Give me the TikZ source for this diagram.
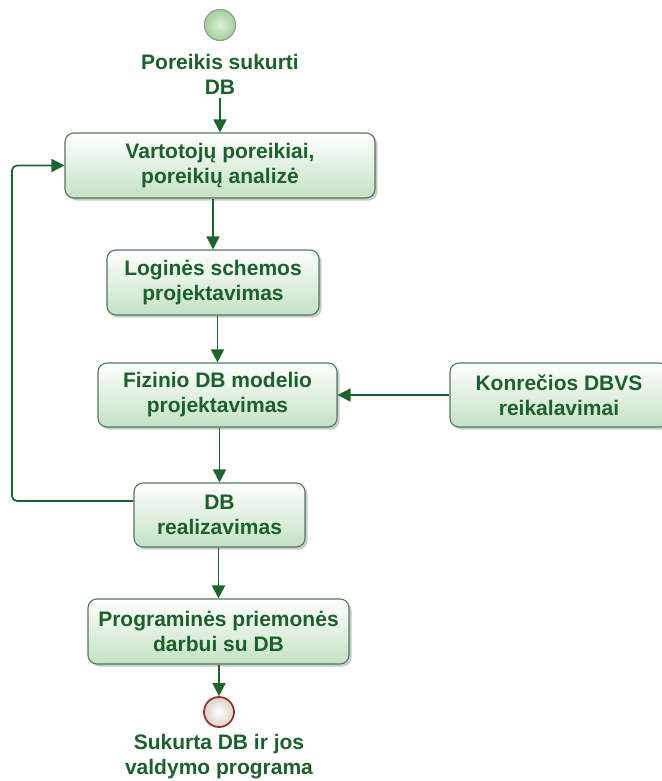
\documentclass[tikz,border=0pt]{standalone}
\usepackage{fontspec}
\setmainfont{Liberation Sans}
\usetikzlibrary{arrows.meta,shadows,calc}
\definecolor{txtgreen}{RGB}{28,96,44}
\definecolor{linegreen}{RGB}{30,100,45}
\definecolor{boxborder}{RGB}{80,120,90}
\definecolor{boxfill}{RGB}{196,226,196}
\definecolor{startfill}{RGB}{160,210,150}
\definecolor{endborder}{RGB}{150,50,50}
\definecolor{endfill}{RGB}{220,210,200}
\tikzset{
  lbl/.style={text=txtgreen, font=\fontsize{21}{25}\selectfont\bfseries, align=center},
  actbox/.style={lbl, draw=boxborder, line width=1.1pt, rounded corners=9pt,
    top color=white, bottom color=boxfill, shading angle=0,
    drop shadow={opacity=0.35, shadow xshift=2.5pt, shadow yshift=-2.5pt, fill=black!60},
    inner sep=0pt},
  arr/.style={draw=linegreen, line width=1.7pt, -{Triangle[length=13pt,width=13pt]}},
  startnode/.style={circle, draw=gray!80, line width=1.2pt, inner sep=0pt, minimum size=31pt,
    inner color=startfill!35, outer color=startfill},
  endnode/.style={circle, draw=endborder, line width=1.8pt, inner sep=0pt, minimum size=30pt,
    inner color=white, outer color=endfill},
}
\begin{document}
\begin{tikzpicture}[x=1pt,y=-1pt]
  \useasboundingbox (0,0) rectangle (661,781);

  % start / end events
  \node[startnode] (start) at (220,25) {};
  \node[lbl] (startlbl) at (220,74) {Poreikis sukurti\\DB};
  \node[endnode] (stop) at (219,712) {};
  \node[lbl] (stoplbl) at (219,757) {Sukurta DB ir jos\\valdymo programa};

  % activities
  \node[actbox, minimum width=310pt, minimum height=65pt] (b1) at (220,165.5)
    {Vartotojų poreikiai,\\poreikių analizė};
  \node[actbox, minimum width=212pt, minimum height=65pt] (b2) at (213,282.5)
    {Loginės schemos\\projektavimas};
  \node[actbox, minimum width=239pt, minimum height=64pt] (b3) at (217.5,395)
    {Fizinio DB modelio\\projektavimas};
  \node[actbox, minimum width=218pt, minimum height=64pt] (b4) at (559,395)
    {Konrečios DBVS\\reikalavimai};
  \node[actbox, minimum width=171pt, minimum height=64pt] (b5) at (219.5,515)
    {DB\\realizavimas};
  \node[actbox, minimum width=261pt, minimum height=65pt] (b6) at (218.5,631.5)
    {Programinės priemonės\\darbui su DB};

  % flow
  \draw[arr] (startlbl.south -| b1.north) -- (b1.north);
  \draw[arr] (b1.south -| b2.north) -- (b2.north);
  \draw[arr] (b2.south -| b3.north) -- (b3.north);
  \draw[arr] (b4.west) -- (b3.east);
  \draw[arr] (b3.south -| b5.north) -- (b5.north);
  \draw[arr] (b5.south -| b6.north) -- (b6.north);
  \draw[arr] (b6.south -| stop.north) -- (stop.north);

  % feedback loop
  \coordinate (lb) at (12,501);
  \coordinate (lt) at (12,165.5);
  \draw[arr, rounded corners=5pt] (b5.west |- lb) -- (lb) -- (lt) -- (b1.west);
\end{tikzpicture}
\end{document}
